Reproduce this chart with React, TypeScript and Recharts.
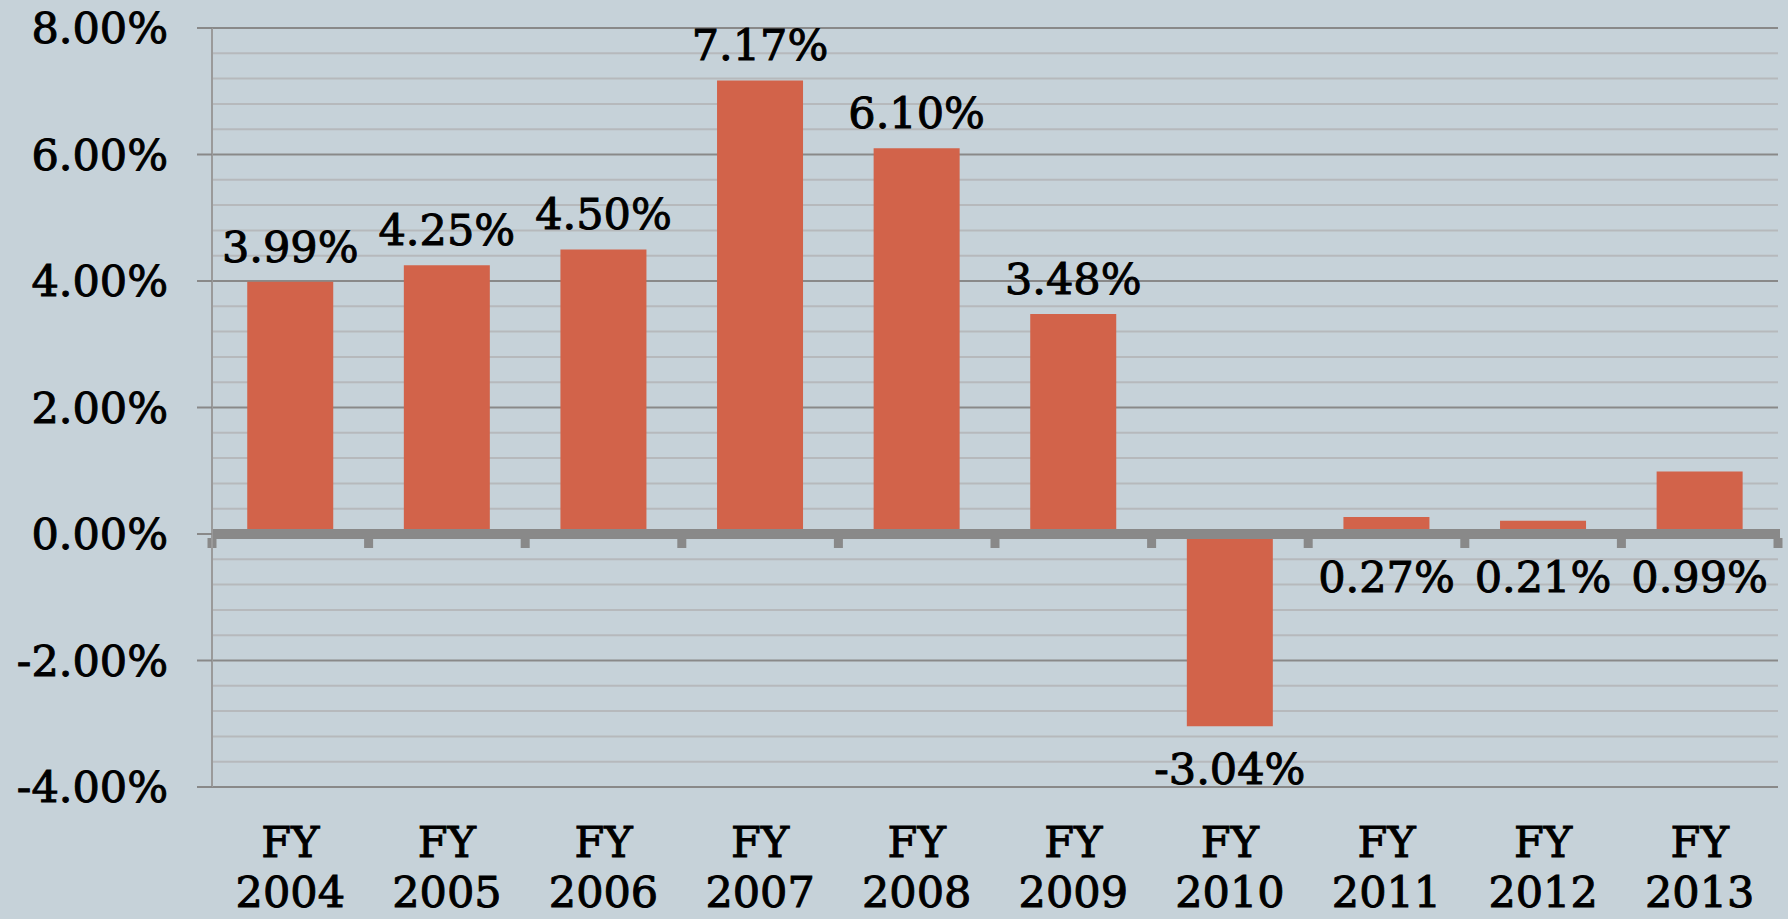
import React from 'react';
import { BarChart, Bar, XAxis, YAxis, CartesianGrid, ReferenceLine, LabelList } from 'recharts';

const categories = ['FY 2004', 'FY 2005', 'FY 2006', 'FY 2007', 'FY 2008', 'FY 2009', 'FY 2010', 'FY 2011', 'FY 2012', 'FY 2013'];
const growthPct = [3.99, 4.25, 4.5, 7.17, 6.1, 3.48, -3.04, 0.27, 0.21, 0.99];
const majorTicks = [-4, -2, 0, 2, 4, 6, 8];
const minorStep = 0.4;

const data = categories.map((name, i) => ({ name, value: growthPct[i] }));

const minorTicks: number[] = [];
for (let i = 0; i <= 30; i++) {
  const v = Math.round((-4 + i * minorStep) * 10) / 10;
  if (!majorTicks.includes(v)) minorTicks.push(v);
}

const FONT = '"DejaVu Serif", serif';
const FS = 43;
const SW = 1.0;
const BG = '#c6d2d9';
const BAR = '#d2634a';
const AXIS = '#898989';

const XTick = (props: any) => {
  const { x, y, payload } = props;
  const parts = String(payload.value).split(' ');
  return (
    <g>
      <text x={x} y={y + 70} textAnchor="middle" fontFamily={FONT} fontSize={FS} fill="#000" stroke="#000" strokeWidth={SW}>{parts[0]}</text>
      <text x={x} y={y + 120} textAnchor="middle" fontFamily={FONT} fontSize={FS} fill="#000" stroke="#000" strokeWidth={SW}>{parts[1]}</text>
    </g>
  );
};

const YTick = (props: any) => {
  const { x, y, payload } = props;
  return (
    <text x={x} y={y} dy="0.36em" textAnchor="end" fontFamily={FONT} fontSize={FS} fill="#000" stroke="#000" strokeWidth={SW}>
      {Number(payload.value).toFixed(2)}%
    </text>
  );
};

const renderLabel = (props: any) => {
  const { x, y, width, height, value } = props;
  const top = Math.min(y, y + height);
  const bottom = Math.max(y, y + height);
  const cx = x + width / 2;
  const ty = value >= 1 ? top - 20 : bottom + 58;
  return (
    <text x={cx} y={ty} textAnchor="middle" fontFamily={FONT} fontSize={FS} fill="#000" stroke="#000" strokeWidth={SW}>
      {Number(value).toFixed(2)}%
    </text>
  );
};

const ZeroAxis = (props: any) => {
  const { x1, x2, y1 } = props;
  const n = categories.length;
  const step = (x2 - x1) / n;
  const ticks = [];
  for (let i = 0; i <= n; i++) {
    const tx = x1 + i * step;
    ticks.push(<rect key={i} x={tx - 4.5} y={y1 + 4} width={9} height={10} fill={AXIS} />);
  }
  return (
    <g>
      <line x1={x1} x2={x2 + 2} y1={y1} y2={y1} stroke={AXIS} strokeWidth={10} />
      {ticks}
    </g>
  );
};

export default function App() {
  return (
    <div style={{ position: 'absolute', left: 0, top: 0, width: 1788, height: 919, background: BG }}>
      <BarChart width={1788} height={919} data={data} margin={{ top: 28, right: 10, left: 0, bottom: 0 }} barCategoryGap="22.5%">
        <CartesianGrid vertical={false} horizontalValues={minorTicks} stroke="#b6b9bc" strokeWidth={2} />
        <CartesianGrid vertical={false} horizontalValues={majorTicks} stroke={AXIS} strokeWidth={2} />
        <XAxis dataKey="name" height={132} axisLine={false} tickLine={false} tickSize={0} tickMargin={0} tick={<XTick />} interval={0} />
        <YAxis
          width={212}
          domain={[-4, 8]}
          ticks={majorTicks}
          type="number"
          allowDataOverflow
          axisLine={{ stroke: '#9a9a9a', strokeWidth: 2 }}
          tickLine={{ stroke: AXIS, strokeWidth: 2 }}
          tickSize={15}
          tickMargin={29}
          tick={<YTick />}
          interval={0}
        />
        <Bar dataKey="value" fill={BAR} isAnimationActive={false}>
          <LabelList dataKey="value" content={renderLabel} />
        </Bar>
        <ReferenceLine y={0} shape={<ZeroAxis />} />
      </BarChart>
    </div>
  );
}
